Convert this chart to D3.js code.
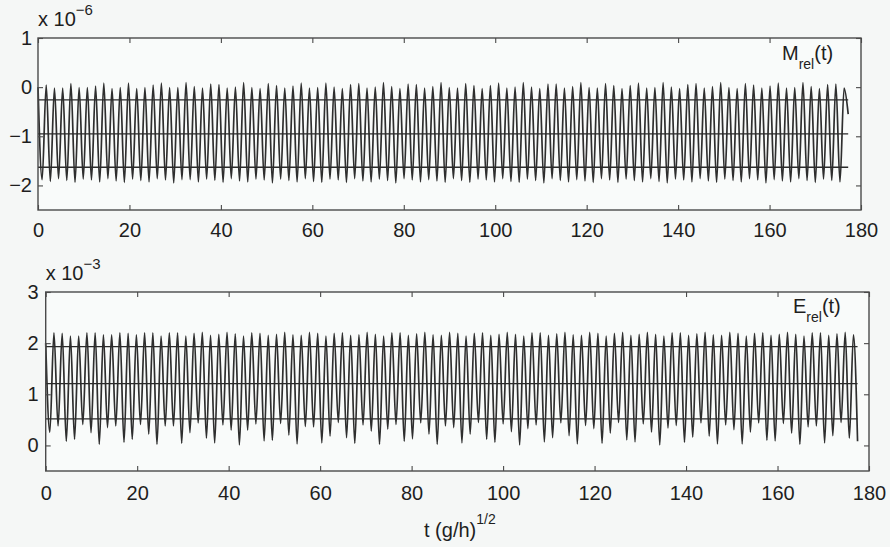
<!DOCTYPE html>
<html><head><meta charset="utf-8">
<script src="https://cdn.jsdelivr.net/npm/d3@7"></script>
<style>
html,body{margin:0;padding:0;background:#f5f7f6;}
svg{display:block;font-family:"Liberation Sans",Arial,Helvetica,sans-serif;}
</style></head>
<body>
<svg id="chart" width="890" height="547"></svg>
<script>
// ---- data ----
const xTicks = [0,20,40,60,80,100,120,140,160,180];
const topYTicks = [-2,-1,0,1];
const bottomYTicks = [0,1,2,3];
const topEndT = 177.2;
const bottomEndT = 177.5;

// M_rel(t) x 1e-6 : successive maxima and minima of the oscillation
const topPeaks = [
 0.00, 0.04,-0.02,-0.02, 0.07,-0.01,-0.01, 0.02, 0.08,-0.03,
-0.01, 0.08,-0.03,-0.01, 0.04, 0.08,-0.01,-0.01, 0.09, 0.01,
-0.02, 0.06, 0.05,-0.02, 0.00, 0.09,-0.01,-0.03, 0.07, 0.03,
-0.02, 0.02, 0.08,-0.02,-0.01, 0.08, 0.00,-0.03, 0.05, 0.07,
-0.02, 0.00, 0.09, 0.01,-0.03, 0.06, 0.05,-0.02, 0.01, 0.09,
-0.01,-0.02, 0.07, 0.03,-0.03, 0.03, 0.08,-0.02, 0.00, 0.09,
 0.00,-0.03, 0.06, 0.06,-0.02, 0.01, 0.09,-0.01,-0.02, 0.07,
 0.03,-0.03, 0.03, 0.08,-0.02,-0.01, 0.09, 0.00,-0.03, 0.05,
 0.07,-0.02, 0.01, 0.09,-0.01,-0.03, 0.07, 0.04,-0.02, 0.02,
 0.08,-0.02,-0.01, 0.09, 0.01,-0.03, 0.05, 0.06,-0.02];
const topTroughs = [
-1.88,-1.92,-1.86,-1.90,-1.94,-1.87,-1.89,-1.93,-1.86,-1.91,
-1.94,-1.87,-1.90,-1.93,-1.86,-1.89,-1.95,-1.88,-1.88,-1.93,
-1.87,-1.90,-1.94,-1.86,-1.91,-1.93,-1.87,-1.89,-1.95,-1.87,
-1.90,-1.93,-1.86,-1.92,-1.94,-1.87,-1.89,-1.94,-1.86,-1.91,
-1.93,-1.87,-1.90,-1.95,-1.86,-1.89,-1.93,-1.88,-1.91,-1.94,
-1.86,-1.90,-1.94,-1.87,-1.89,-1.93,-1.86,-1.92,-1.94,-1.87,
-1.90,-1.95,-1.86,-1.90,-1.93,-1.88,-1.91,-1.94,-1.86,-1.89,
-1.94,-1.87,-1.90,-1.93,-1.86,-1.92,-1.95,-1.87,-1.89,-1.93,
-1.86,-1.91,-1.94,-1.87,-1.90,-1.93,-1.86,-1.89,-1.95,-1.88,
-1.91,-1.93,-1.86,-1.90,-1.94,-1.87,-1.90,-1.93,-0.55];
const topLevels = [-0.26,-0.95,-1.63];

// E_rel(t) x 1e-3
const bottomPeaks = [
 2.00,2.20,2.19,2.14,2.14,2.20,2.20,2.16,2.16,2.20,
 2.19,2.16,2.20,2.20,2.14,2.20,2.20,2.14,2.19,2.21,
 2.15,2.17,2.21,2.18,2.14,2.20,2.19,2.15,2.17,2.21,
 2.16,2.15,2.21,2.19,2.14,2.19,2.20,2.15,2.16,2.21,
 2.17,2.14,2.20,2.20,2.15,2.18,2.21,2.16,2.15,2.21,
 2.19,2.14,2.19,2.20,2.15,2.17,2.21,2.17,2.14,2.20,
 2.20,2.15,2.18,2.21,2.16,2.15,2.21,2.19,2.14,2.19,
 2.21,2.15,2.17,2.21,2.17,2.14,2.20,2.20,2.15,2.18,
 2.21,2.16,2.15,2.21,2.19,2.14,2.19,2.20,2.15,2.17,
 2.21,2.17,2.14,2.20,2.20,2.15,2.18,2.21,2.16];
const bottomTroughs = [
 0.26,0.38,0.08,0.12,0.41,0.25,0.02,0.35,0.38,0.06,
 0.12,0.41,0.22,0.02,0.38,0.38,0.04,0.25,0.44,0.14,
 0.05,0.40,0.30,0.01,0.30,0.42,0.09,0.10,0.43,0.20,
 0.03,0.37,0.36,0.05,0.18,0.45,0.15,0.04,0.40,0.28,
 0.02,0.32,0.41,0.08,0.13,0.44,0.22,0.02,0.38,0.35,
 0.05,0.22,0.45,0.12,0.06,0.42,0.27,0.01,0.33,0.40,
 0.07,0.15,0.44,0.19,0.03,0.39,0.33,0.04,0.24,0.45,
 0.11,0.07,0.42,0.26,0.01,0.34,0.39,0.06,0.16,0.44,
 0.18,0.03,0.40,0.31,0.03,0.26,0.44,0.10,0.09,0.43,
 0.24,0.02,0.36,0.38,0.05,0.19,0.45,0.14,0.08];
const bottomLevels = [1.93,1.21,0.52];

// ---- drawing ----
const svg = d3.select("#chart");
const ink = "#1e1e1e";
const axisCol = "#4a4a4a";
const lineCol = "#2e2e2e";

function series(peaks, troughs, tEnd){
  const vals = [];
  peaks.forEach((p,i)=>{ vals.push(p); vals.push(troughs[i]); });
  const n = vals.length;
  return vals.map((v,i)=>({t: i*tEnd/(n-1), v}));
}

function panel(cfg){
  const x = d3.scaleLinear().domain([0,180]).range([cfg.left,cfg.right]);
  const y = d3.scaleLinear().domain(cfg.yDomain).range([cfg.bottom,cfg.top]);
  const g = svg.append("g");

  g.append("rect").attr("x",cfg.left).attr("y",cfg.top)
    .attr("width",cfg.right-cfg.left).attr("height",cfg.bottom-cfg.top)
    .attr("fill","#f9fbfa");

  const data = series(cfg.peaks, cfg.troughs, cfg.tEnd);
  const line = d3.line().x(d=>x(d.t)).y(d=>y(d.v)).curve(d3.curveMonotoneX);
  g.append("path").datum(data).attr("d",line)
    .attr("fill","none").attr("stroke",lineCol).attr("stroke-width",1.7)
    .attr("stroke-linejoin","round");

  g.selectAll(".lvl").data(cfg.levels).enter().append("line")
    .attr("x1",x(0)).attr("x2",x(cfg.tEnd))
    .attr("y1",d=>y(d)).attr("y2",d=>y(d))
    .attr("stroke","#2a2a2a").attr("stroke-width",1.3);

  const fmt = d => d<0 ? "\u2212"+Math.abs(d) : String(d);

  const ax = (axis, tx, ty, labels) => {
    const a = g.append("g").attr("transform",`translate(${tx},${ty})`).call(axis);
    a.select(".domain").remove();
    a.selectAll("line").attr("stroke",axisCol).attr("stroke-width",1.1);
    a.selectAll("text").attr("fill",ink).style("font-size","20px")
      .style("font-family",'"Liberation Sans",Arial,sans-serif');
    if(!labels) a.selectAll("text").remove();
    return a;
  };
  ax(d3.axisBottom(x).tickValues(xTicks).tickSizeInner(-5).tickSizeOuter(0).tickPadding(cfg.xPad).tickFormat(fmt), 0, cfg.bottom, true);
  ax(d3.axisTop(x).tickValues(xTicks).tickSizeInner(-5).tickSizeOuter(0), 0, cfg.top, false);
  ax(d3.axisLeft(y).tickValues(cfg.yTicks).tickSizeInner(-5).tickSizeOuter(0).tickPadding(cfg.yPad).tickFormat(fmt), cfg.left, 0, true);
  ax(d3.axisRight(y).tickValues(cfg.yTicks).tickSizeInner(-5).tickSizeOuter(0), cfg.right, 0, false);

  g.append("rect").attr("x",cfg.left).attr("y",cfg.top)
    .attr("width",cfg.right-cfg.left).attr("height",cfg.bottom-cfg.top)
    .attr("fill","none").attr("stroke",axisCol).attr("stroke-width",1.4);

  const ex = g.append("text").attr("x",cfg.left).attr("y",cfg.expY)
    .attr("fill",ink).style("font-size","20px");
  ex.append("tspan").text("x 10");
  ex.append("tspan").attr("dy",-11).style("font-size","15px").text(cfg.exp);

  const nm = g.append("text").attr("x",cfg.nameX).attr("y",cfg.nameY)
    .attr("fill",ink).style("font-size","20px");
  nm.append("tspan").text(cfg.name);
  nm.append("tspan").attr("dy",9).style("font-size","14px").text("rel");
  nm.append("tspan").attr("dy",-9).text("(t)");
}

panel({left:38,right:861,top:38,bottom:210,yDomain:[-2.5,1],yTicks:topYTicks,
  peaks:topPeaks,troughs:topTroughs,tEnd:topEndT,levels:topLevels,
  xPad:13,yPad:6,exp:"\u22126",expY:26,name:"M",nameX:782,nameY:60});
panel({left:45.7,right:869,top:292,bottom:471,yDomain:[-0.5,3],yTicks:bottomYTicks,
  peaks:bottomPeaks,troughs:bottomTroughs,tEnd:bottomEndT,levels:bottomLevels,
  xPad:15,yPad:7,exp:"\u22123",expY:280,name:"E",nameX:793,nameY:313});

const xl = svg.append("text").attr("x",424).attr("y",537).attr("fill",ink).style("font-size","20px");
xl.append("tspan").text("t (g/h)");
xl.append("tspan").attr("dy",-13).style("font-size","14px").text("1/2");
</script>
</body></html>
